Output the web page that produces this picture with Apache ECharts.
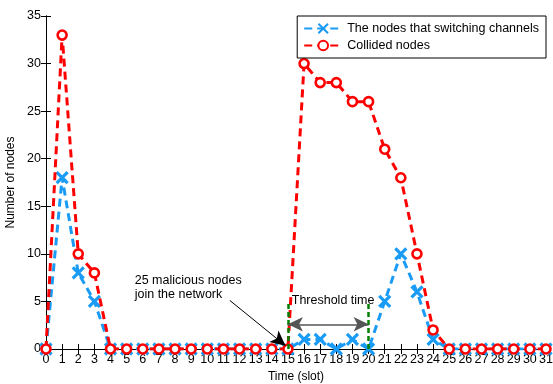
<!DOCTYPE html>
<html><head><meta charset="utf-8">
<script src="https://cdn.jsdelivr.net/npm/echarts@6/dist/echarts.min.js"></script>
<style>html,body{margin:0;padding:0;background:#fff}#c{width:553px;height:384px}</style>
</head><body><div id="c"></div>
<script>
var slots = [0,1,2,3,4,5,6,7,8,9,10,11,12,13,14,15,16,17,18,19,20,21,22,23,24,25,26,27,28,29,30,31];
var switching = [0,18,8,5,0,0,0,0,0,0,0,0,0,0,0,0,1,1,0,1,0,5,10,6,1,0,0,0,0,0,0,0];
var collided  = [0,33,10,8,0,0,0,0,0,0,0,0,0,0,0,0,30,28,28,26,26,21,18,10,2,0,0,0,0,0,0,0];
var seriesNames = ['The nodes that switching channels','Collided nodes'];
var thresholdStart = 15, thresholdEnd = 20;

var FONT = 'Liberation Sans, Arial, sans-serif';
var chart = echarts.init(document.getElementById('c'), null, {renderer:'canvas'});
function pairs(v){ return slots.map(function(s,i){return [s, v[i]];}); }
var axisLine = {show:true, lineStyle:{color:'#000', width:1}};
var option = {
  animation:false,
  backgroundColor:'#fff',
  grid:{left:46, right:7, top:16, bottom:35, containLabel:false, outerBoundsMode:'none'},
  legend:{
    right:7, top:16, orient:'vertical', itemGap:4, itemWidth:38, itemHeight:12,
    padding:[6,7,6,6], borderColor:'#000', borderWidth:1, backgroundColor:'#fff',
    textStyle:{fontFamily:FONT, fontSize:12.5, color:'#000'},
    data:seriesNames
  },
  xAxis:[{
    type:'value', min:0, max:31, interval:1, position:'bottom',
    name:'Time (slot)', nameLocation:'middle', nameGap:21,
    nameTextStyle:{fontFamily:FONT, fontSize:12, color:'#000'},
    axisLine:axisLine, axisTick:{show:true, inside:true, length:5, lineStyle:{color:'#000'}},
    axisLabel:{fontFamily:FONT, fontSize:12.5, color:'#000', margin:4},
    splitLine:{show:false}
  },{
    type:'value', min:0, max:31, interval:1, position:'top',
    axisLine:axisLine, axisTick:{show:true, inside:true, length:5, lineStyle:{color:'#000'}},
    axisLabel:{show:false}, splitLine:{show:false}
  }],
  yAxis:[{
    type:'value', min:0, max:35, interval:5, position:'left',
    name:'Number of nodes', nameLocation:'middle', nameGap:25, nameRotate:90,
    nameTextStyle:{fontFamily:FONT, fontSize:12, color:'#000'},
    axisLine:axisLine, axisTick:{show:true, inside:true, length:5, lineStyle:{color:'#000'}},
    axisLabel:{fontFamily:FONT, fontSize:12.5, color:'#000', margin:5},
    splitLine:{show:false}
  },{
    type:'value', min:0, max:35, interval:5, position:'right',
    axisLine:axisLine, axisTick:{show:true, inside:true, length:5, lineStyle:{color:'#000'}},
    axisLabel:{show:false}, splitLine:{show:false}
  }],
  series:[{
    name:seriesNames[0], type:'line', data:pairs(switching),
    symbol:'path://M-1,-1L1,1M1,-1L-1,1', symbolSize:11,
    itemStyle:{color:'#1a9bf5', borderColor:'#1a9bf5', borderWidth:3.2},
    lineStyle:{color:'#1a9bf5', width:3, type:[8,5]},
    z:2,
    markLine:{
      silent:true, symbol:['none','none'], animation:false,
      label:{show:false},
      lineStyle:{color:'#008000', width:2.5, type:[5,3]},
      data:[
        [{coord:[thresholdStart,0]},{coord:[thresholdStart,5]}],
        [{coord:[thresholdEnd,0]},{coord:[thresholdEnd,5]}]
      ]
    }
  },{
    name:seriesNames[1], type:'line', data:pairs(collided),
    symbol:'circle', symbolSize:9,
    itemStyle:{color:'#fff', borderColor:'#ff0000', borderWidth:2.6},
    lineStyle:{color:'#ff0000', width:3, type:[8,5]},
    z:3,
    markLine:{
      silent:true, animation:false, label:{show:false},
      symbol:['arrow','arrow'], symbolSize:[11,15],
      lineStyle:{color:'#555', width:1.5, type:'solid'},
      itemStyle:{color:'#000'},
      data:[
        [{coord:[thresholdStart,2.6], symbol:'arrow', itemStyle:{color:'#000'}},
         {coord:[thresholdEnd,2.6], symbol:'arrow', itemStyle:{color:'#000'}}],
        [{coord:[11.4,5.1], symbol:'none'},
         {coord:[14.85,0.35], symbol:'arrow', itemStyle:{color:'#000'},
          lineStyle:{color:'#000', width:1, type:'solid'}}]
      ]
    }
  }]
};
chart.setOption(option);
var p1 = chart.convertToPixel({xAxisIndex:0, yAxisIndex:0}, [5.5, 7.9]);
var p2 = chart.convertToPixel({xAxisIndex:0, yAxisIndex:0}, [17.8, 5.1]);
chart.setOption({graphic:[
  {type:'text', x:p1[0], y:p1[1], style:{text:'25 malicious nodes\njoin the network', font:'12.5px '+FONT, fill:'#000', lineHeight:14}, z:100},
  {type:'text', x:p2[0], y:p2[1], style:{text:'Threshold time', font:'12.5px '+FONT, fill:'#000', align:'center', verticalAlign:'middle'}, z:100}
]});
</script></body></html>
